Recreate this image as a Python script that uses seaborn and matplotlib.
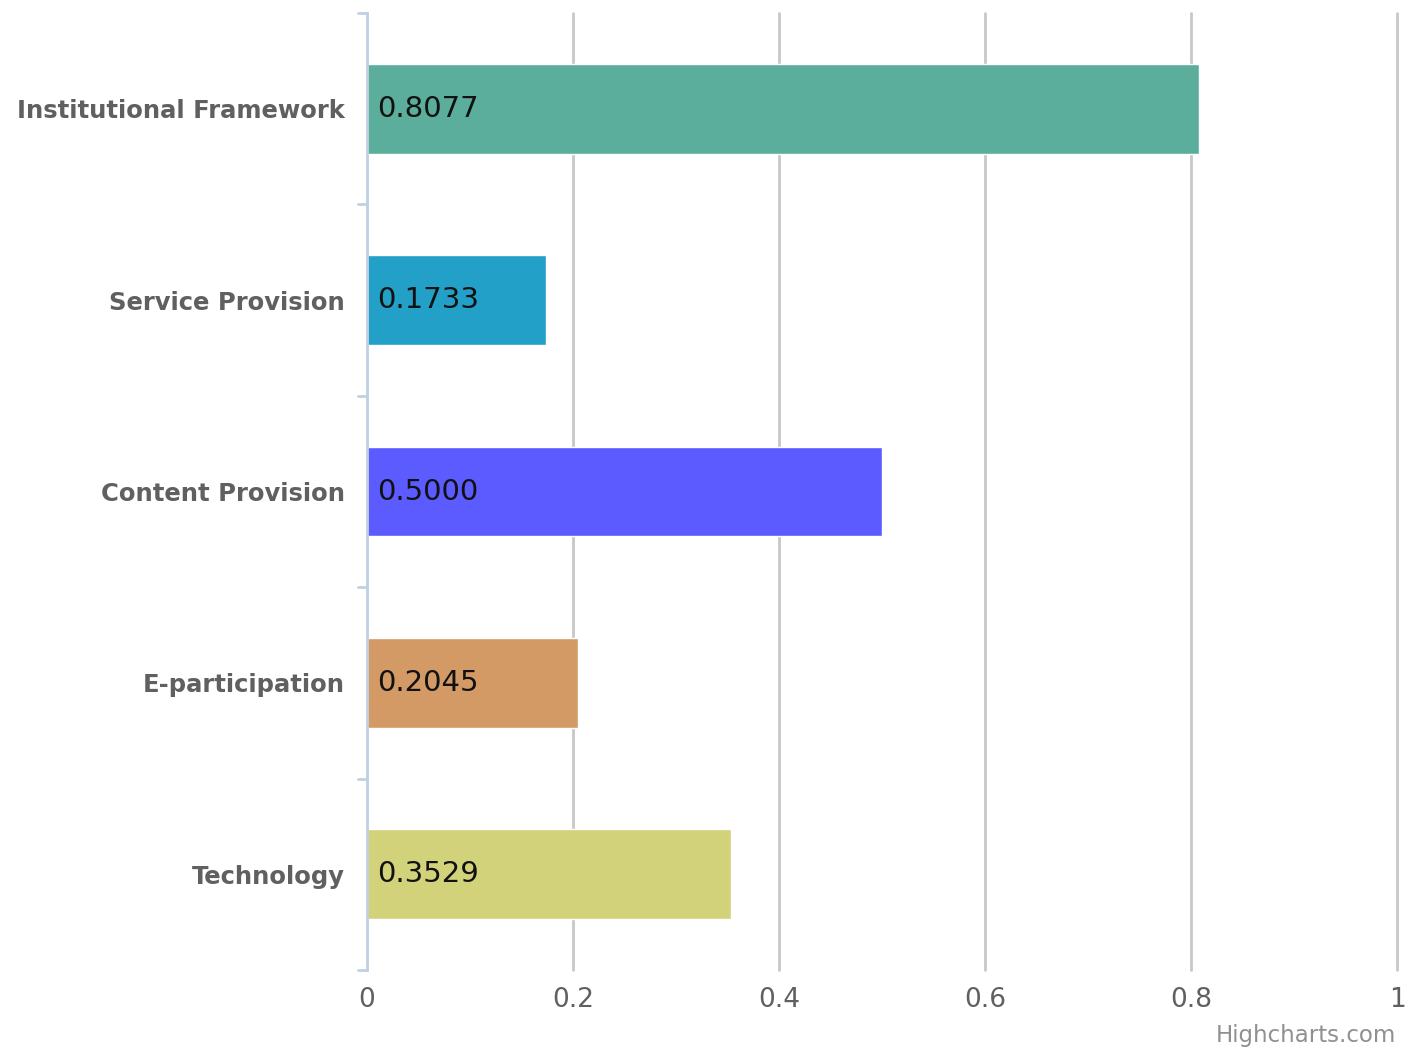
import pandas as pd
import matplotlib.pyplot as plt
import seaborn as sns

categories = ["Institutional Framework", "Service Provision", "Content Provision",
              "E-participation", "Technology"]
scores = [0.8077, 0.1733, 0.5000, 0.2045, 0.3529]
bar_colors = ["#5BAE9C", "#22A0C8", "#5B5BFF", "#D39A66", "#D2D27A"]
x_ticks = [0, 0.2, 0.4, 0.6, 0.8, 1]
x_tick_labels = ["0", "0.2", "0.4", "0.6", "0.8", "1"]

df = pd.DataFrame({"category": categories, "score": scores})

sns.set_style("white")
plt.rcParams["font.family"] = ["DejaVu Sans"]

fig = plt.figure(figsize=(14.1, 10.6), dpi=100)
ax = fig.add_axes([0.2603, 0.0849, 0.7305, 0.9028])

sns.barplot(data=df, x="score", y="category", hue="category", palette=bar_colors,
            orient="h", width=0.47, legend=False, ax=ax, saturation=1)

ax.set_xlim(0, 1)
ax.set_ylim(4.5, -0.5)
ax.set_xticks(x_ticks)
ax.set_xticklabels(x_tick_labels)
ax.set_xlabel("")
ax.set_ylabel("")

# vertical grid lines like highcharts
for t in x_ticks[1:]:
    ax.axvline(t, color="#C8C8C8", lw=2, zorder=0, clip_on=False)

for s in ["top", "right", "bottom"]:
    ax.spines[s].set_visible(False)
ax.spines["left"].set_color("#C0D0E0")
ax.spines["left"].set_linewidth(2)

# category boundary ticks on the left axis
ax.set_yticks(range(len(categories)))
ax.set_yticklabels(categories, fontsize=17.5, fontweight="bold", color="#606060")
ax.tick_params(axis="y", length=0, pad=16)
for b in [i - 0.5 for i in range(len(categories) + 1)]:
    ax.plot([-0.009, 0], [b, b], color="#C0D0E0", lw=2, clip_on=False)

ax.tick_params(axis="x", length=0, pad=12, labelsize=19, labelcolor="#606060")

for i, v in enumerate(scores):
    ax.text(0.01, i, f"{v:.4f}", va="center", ha="left", fontsize=21, color="#111111")

fig.text(0.99, 0.012, "Highcharts.com", ha="right", va="bottom", fontsize=16.5, color="#909090")

fig.savefig("out.png", dpi=100)
